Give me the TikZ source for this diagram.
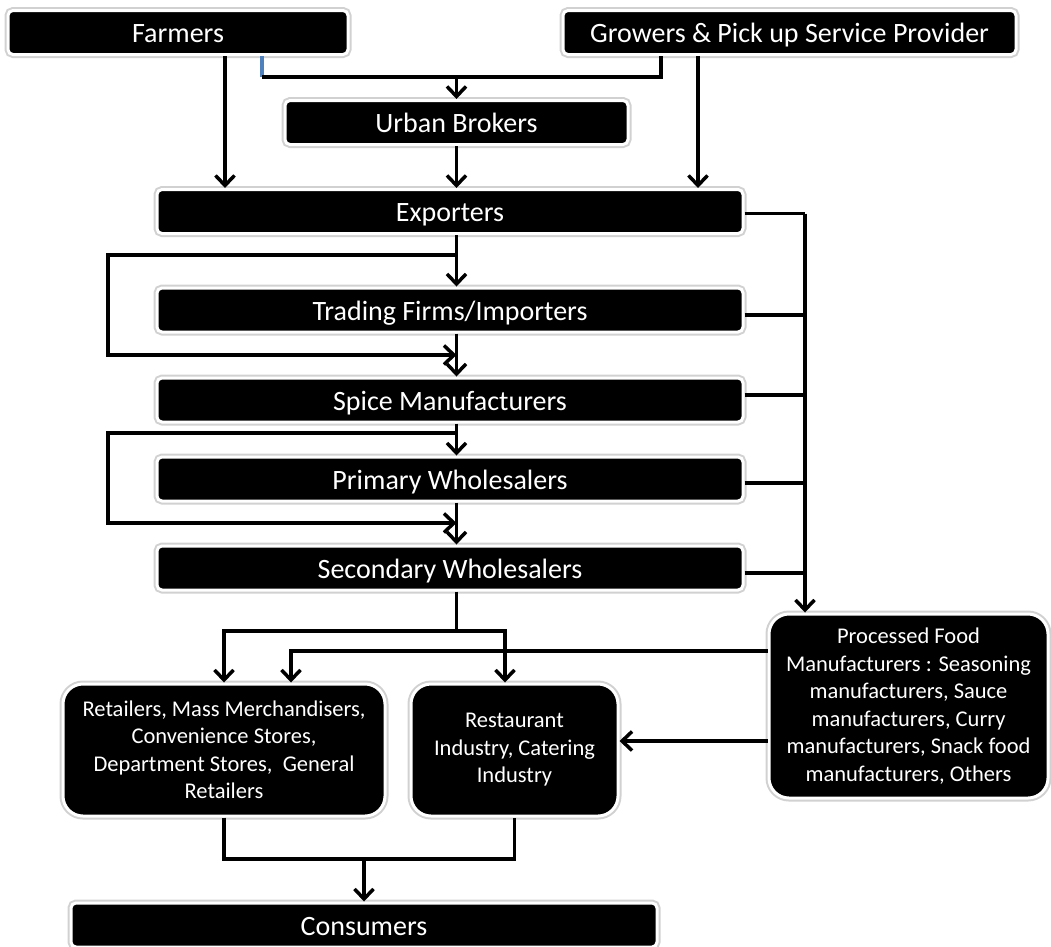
\documentclass[tikz,border=0pt]{standalone}
\usepackage{fontspec}
\setmainfont{Carlito}
\usetikzlibrary{positioning,arrows.meta}
\definecolor{tickblue}{RGB}{79,129,189}

\begin{document}
\begin{tikzpicture}[
  x=1pt, y=-1pt,
  base/.style={rectangle,fill=black,text=white,
    draw=white,line width=3pt,preaction={draw=black!18,line width=7pt},
    inner sep=0pt},
  bar/.style={base,rounded corners=5pt,minimum height=44pt,
    text height=20pt,text depth=0pt,font=\fontsize{28}{34}\selectfont},
  blk/.style={base,rounded corners=20pt,align=center,
    font=\fontsize{22.5}{27.5}\selectfont},
  link/.style={line width=3.5pt},
  flow/.style={link,-{Straight Barb[length=10pt,width=19pt]}}
]
\useasboundingbox (0,0) rectangle (1051,946);

\node[bar,minimum width=340pt] (farm) at (178,32.5) {Farmers};
\node[bar,minimum width=453pt] (grow) at (789.5,32.5) {Growers \& Pick up Service Provider};
\node[bar,minimum width=343pt] (urban) at (456.5,122.5) {Urban Brokers};
\node[bar,minimum width=586pt] (exp) at (450,211.5) {Exporters};
\node[bar,minimum width=586pt] (trade) at (450,310) {Trading Firms/Importers};
\node[bar,minimum width=586pt] (spice) at (450,400) {Spice Manufacturers};
\node[bar,minimum width=586pt] (prim) at (450,479) {Primary Wholesalers};
\node[bar,minimum width=586pt] (sec) at (450,568) {Secondary Wholesalers};
\node[blk,minimum width=279pt,minimum height=184pt] (proc) at (908.5,706)
  {Processed Food\\Manufacturers : Seasoning\\manufacturers, Sauce\\manufacturers, Curry\\manufacturers, Snack food\\manufacturers, Others};
\node[blk,minimum width=322pt,minimum height=132pt] (ret) at (224,750)
  {Retailers, Mass Merchandisers,\\Convenience Stores,\\Department Stores,\ \ General\\Retailers};
\node[blk,minimum width=207pt,minimum height=132pt] (rest) at (514.5,750)
  {Restaurant\\Industry, Catering\\Industry};
\node[bar,minimum width=586pt] (cons) at (364,925) {Consumers};

% helper points
\coordinate (fj) at (262,77);
\coordinate (gj) at (661,77);
\coordinate (fa) at (225,0);
\coordinate (ga) at (698,0);
\coordinate (bus) at (805,0);
\coordinate (l1) at (108,255);
\coordinate (l1b) at (108,355);
\coordinate (l2) at (108,433);
\coordinate (l2b) at (108,523);
\coordinate (sj) at (0,631);
\coordinate (ra) at (505,0);
\coordinate (pj) at (291,651);
\coordinate (pr) at (0,741);
\coordinate (cj) at (0,859);

% top
\draw[link,tickblue] (farm.south -| fj) -- (fj);
\draw[link] (fj) -- (gj) -- (grow.south -| gj);
\draw[flow] (fj -| urban) -- (urban.north);
\draw[flow] (farm.south -| fa) -- (exp.north -| fa);
\draw[flow] (grow.south -| ga) -- (exp.north -| ga);
\draw[flow] (urban.south) -- (exp.north -| urban);

% main column
\draw[flow] (exp.south -| urban) -- (trade.north -| urban);
\draw[flow] (l1 -| urban) -- (l1) -- (l1b) -- (l1b -| urban);
\draw[flow] (trade.south -| urban) -- (spice.north -| urban);
\draw[flow] (spice.south -| urban) -- (prim.north -| urban);
\draw[flow] (l2 -| urban) -- (l2) -- (l2b) -- (l2b -| urban);
\draw[flow] (prim.south -| urban) -- (sec.north -| urban);

% right bus
\foreach \n/\dy in {exp/2,trade/5,spice/-5,prim/4,sec/5}
  \draw[link] ([yshift=-\dy pt]\n.east) -- ([yshift=-\dy pt]\n.east -| bus);
\draw[flow] ([yshift=-2pt]exp.east -| bus) -- (proc.north -| bus);

% lower part
\draw[link] (sec.south -| urban) -- (sj -| urban);
\draw[flow] (sj -| urban) -- (sj -| ret) -- (ret.north);
\draw[flow] (sj -| urban) -- (sj -| ra) -- (rest.north -| ra);
\draw[flow] (proc.west |- pj) -- (pj) -- (ret.north -| pj);
\draw[flow] (proc.west |- pr) -- (rest.east |- pr);
\draw[link] (ret.south) -- (ret.south |- cj) -- (rest.south |- cj) -- (rest.south);
\draw[flow] (cj -| cons) -- (cons.north);
\end{tikzpicture}
\end{document}
